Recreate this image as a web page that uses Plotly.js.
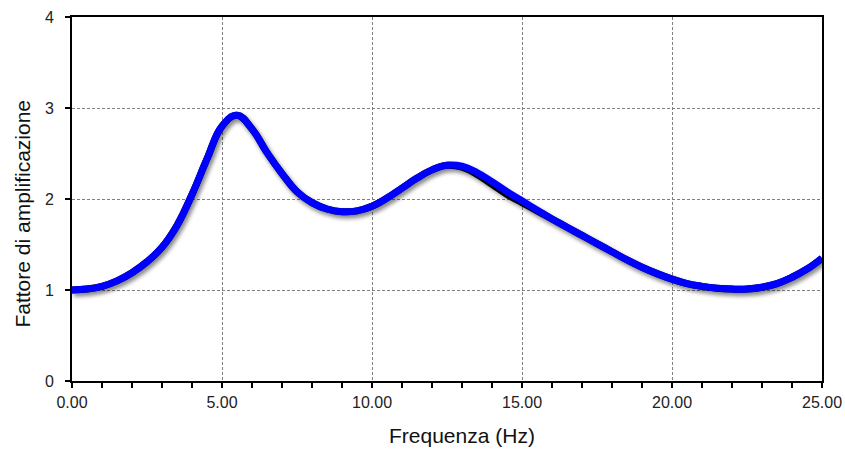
<!DOCTYPE html>
<html>
<head>
<meta charset="utf-8">
<script src="https://cdn.plot.ly/plotly-3.0.1.min.js"></script>
<style>
  html, body { margin: 0; padding: 0; background: #fff; }
  #chart { width: 845px; height: 449px; }
  .scatterlayer .trace path.js-line { filter: drop-shadow(2px 3px 2px rgba(0,0,0,0.28)); }
</style>
</head>
<body>
<div id="chart"></div>
<script>
// Frequency axis (Hz), sampled every 0.5 Hz
const frequenza = [
  0, 0.5, 1, 1.5, 2, 2.5, 3, 3.5, 4, 4.5,
  5, 5.5, 6, 6.5, 7, 7.5, 8, 8.5, 9, 9.5,
  10, 10.5, 11, 11.5, 12, 12.5, 13, 13.5, 14, 14.5,
  15, 15.5, 16, 16.5, 17, 17.5, 18, 18.5, 19, 19.5,
  20, 20.5, 21, 21.5, 22, 22.5, 23, 23.5, 24, 24.5, 25
];

// Amplification factor, blue curve
const fattoreBlu = [
  1.00, 1.01, 1.04, 1.10, 1.19, 1.31, 1.47, 1.71, 2.05, 2.44,
  2.80, 2.92, 2.77, 2.51, 2.28, 2.08, 1.96, 1.89, 1.86, 1.87,
  1.92, 2.01, 2.12, 2.23, 2.32, 2.37, 2.36, 2.29, 2.19, 2.08,
  1.98, 1.88, 1.78, 1.69, 1.60, 1.51, 1.42, 1.33, 1.25, 1.18,
  1.12, 1.07, 1.04, 1.02, 1.01, 1.01, 1.03, 1.07, 1.14, 1.23, 1.35
];

// Amplification factor, black curve
const fattoreNero = [
  1.00, 1.01, 1.04, 1.10, 1.19, 1.31, 1.47, 1.71, 2.05, 2.44,
  2.80, 2.92, 2.77, 2.51, 2.28, 2.08, 1.96, 1.89, 1.86, 1.87,
  1.92, 2.01, 2.12, 2.23, 2.32, 2.37, 2.35, 2.27, 2.16, 2.05,
  1.96, 1.87, 1.78, 1.69, 1.60, 1.51, 1.42, 1.33, 1.25, 1.18,
  1.12, 1.07, 1.04, 1.02, 1.01, 1.01, 1.03, 1.07, 1.14, 1.23, 1.35
];

const xTicks = [0, 5, 10, 15, 20, 25];
const xTickLabels = ['0.00', '5.00', '10.00', '15.00', '20.00', '25.00'];
const yTicks = [0, 1, 2, 3, 4];

const traces = [
  {
    x: frequenza, y: fattoreNero, type: 'scatter', mode: 'lines',
    line: { color: '#000000', width: 7, shape: 'spline', smoothing: 1.2 },
    hoverinfo: 'skip', showlegend: false
  },
  {
    x: frequenza, y: fattoreBlu, type: 'scatter', mode: 'lines',
    line: { color: '#0000ff', width: 7, shape: 'spline', smoothing: 1.2 },
    showlegend: false
  }
];

const axisFont = { family: 'Liberation Sans, Arial, sans-serif', size: 16, color: '#222' };

const layout = {
  width: 845, height: 449,
  margin: { l: 72, r: 23, t: 17, b: 68 },
  paper_bgcolor: '#ffffff', plot_bgcolor: '#ffffff',
  showlegend: false,
  xaxis: {
    range: [0, 25],
    tickmode: 'array', tickvals: xTicks, ticktext: xTickLabels,
    ticks: 'outside', ticklen: 5, tickwidth: 2, tickcolor: '#000',
    minor: { dtick: 1, ticks: 'outside', ticklen: 5, tickwidth: 2, tickcolor: '#000', showgrid: false },
    ticklabelstandoff: 1,
    showline: true, linecolor: '#000', linewidth: 2, mirror: true,
    showgrid: true, gridcolor: '#808080', gridwidth: 1, griddash: '3px,2px',
    zeroline: false, tickfont: axisFont, fixedrange: true
  },
  yaxis: {
    range: [0, 4],
    tickmode: 'array', tickvals: yTicks,
    ticks: 'outside', ticklen: 5, tickwidth: 2, tickcolor: '#000',
    ticklabelstandoff: 8,
    showline: true, linecolor: '#000', linewidth: 2, mirror: true,
    showgrid: true, gridcolor: '#808080', gridwidth: 1, griddash: '3px,2px',
    zeroline: false, tickfont: axisFont, fixedrange: true
  },
  annotations: [
    {
      text: 'Frequenza (Hz)', xref: 'paper', yref: 'paper',
      x: 0.52, y: -0.151, xanchor: 'center', yanchor: 'middle', showarrow: false,
      font: { family: 'Liberation Sans, Arial, sans-serif', size: 21, color: '#111' }
    },
    {
      text: 'Fattore di amplificazione', xref: 'paper', yref: 'paper',
      x: -0.0653, y: 0.46, xanchor: 'center', yanchor: 'middle', showarrow: false,
      textangle: -90,
      font: { family: 'Liberation Sans, Arial, sans-serif', size: 21, color: '#111' }
    }
  ]
};

Plotly.newPlot('chart', traces, layout, { displayModeBar: false, staticPlot: true });
</script>
</body>
</html>
